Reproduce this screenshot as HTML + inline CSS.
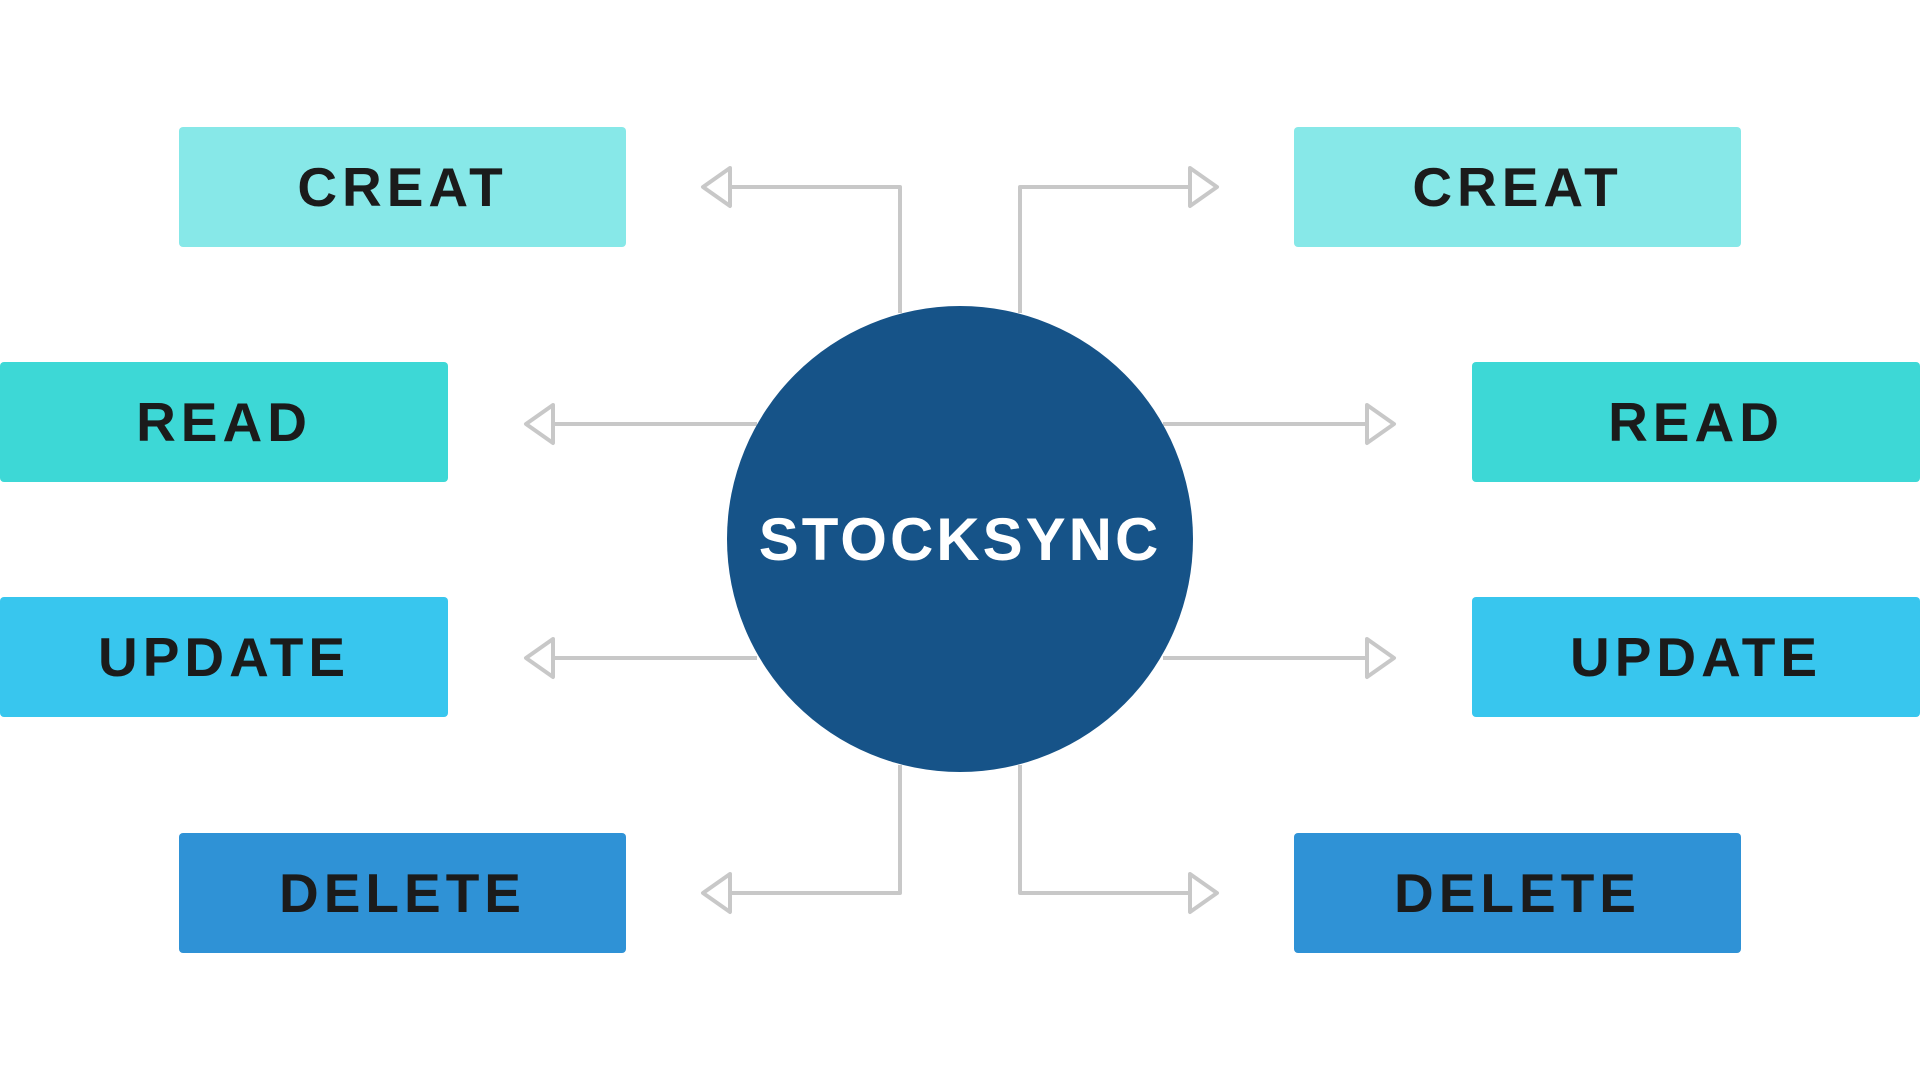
<!DOCTYPE html>
<html><head><style>
html,body{margin:0;padding:0;background:#fff;width:1920px;height:1080px;overflow:hidden;font-family:"Liberation Sans",Arial,sans-serif}
.b{position:absolute;height:120px;border-radius:4px;display:flex;align-items:center;justify-content:center;font-weight:bold;font-size:55px;letter-spacing:5px;color:#1b1b1b}
.c1{background:#87e8e8}.c2{background:#3dd8d6}.c3{background:#38c6ee}.c4{background:#2f92d6}
</style></head><body>
<svg width="1920" height="1080" style="position:absolute;left:0;top:0">
<g fill="none" stroke="#c8c8c8" stroke-width="4" stroke-linejoin="round">
<polyline points="900,313 900,187 730,187"/><polygon points="730,168 703,187 730,206"/>
<polyline points="1020,313 1020,187 1190,187"/><polygon points="1190,168 1217,187 1190,206"/>
<line x1="757" y1="424" x2="553" y2="424"/><polygon points="553,405 526,424 553,443"/>
<line x1="1163" y1="424" x2="1367" y2="424"/><polygon points="1367,405 1394,424 1367,443"/>
<line x1="757" y1="658" x2="553" y2="658"/><polygon points="553,639 526,658 553,677"/>
<line x1="1163" y1="658" x2="1367" y2="658"/><polygon points="1367,639 1394,658 1367,677"/>
<polyline points="900,765 900,893 730,893"/><polygon points="730,874 703,893 730,912"/>
<polyline points="1020,765 1020,893 1190,893"/><polygon points="1190,874 1217,893 1190,912"/>
</g>
<circle cx="960" cy="539" r="233" fill="#165388"/>
<text x="960" y="560" text-anchor="middle" fill="#fff" font-family="Liberation Sans,Arial,sans-serif" font-weight="bold" font-size="60" letter-spacing="3">STOCKSYNC</text>
</svg>
<div class="b c1" style="left:179px;top:127px;width:447px">CREAT</div>
<div class="b c1" style="left:1294px;top:127px;width:447px">CREAT</div>
<div class="b c2" style="left:0;top:362px;width:448px">READ</div>
<div class="b c2" style="left:1472px;top:362px;width:448px">READ</div>
<div class="b c3" style="left:0;top:597px;width:448px">UPDATE</div>
<div class="b c3" style="left:1472px;top:597px;width:448px">UPDATE</div>
<div class="b c4" style="left:179px;top:833px;width:447px">DELETE</div>
<div class="b c4" style="left:1294px;top:833px;width:447px">DELETE</div>
</body></html>
